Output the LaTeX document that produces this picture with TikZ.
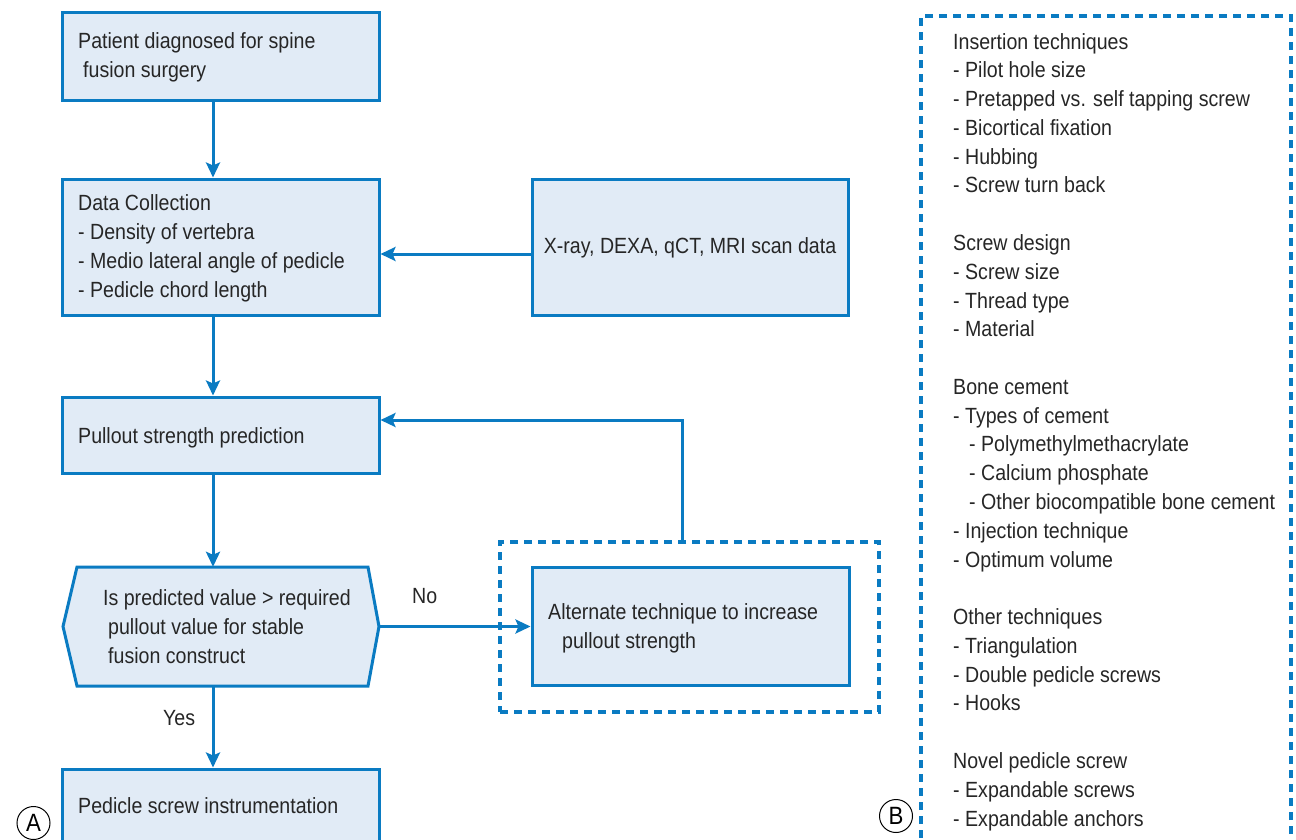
\documentclass[tikz,border=0pt]{standalone}
\usepackage{fontspec}
\setmainfont{Liberation Sans}[FakeStretch=0.89]
\usetikzlibrary{arrows.meta}
\definecolor{lblue}{HTML}{0A7BC2}
\definecolor{lfill}{HTML}{E1EBF6}
\definecolor{ltext}{HTML}{262626}
\tikzset{
  box/.style={draw=lblue,fill=lfill,line width=3pt,inner sep=0pt},
  grp/.style={draw=lblue,line width=3.2pt,dash pattern=on 8pt off 6pt,inner sep=0pt},
  txt/.style={anchor=base west,inner sep=0pt,text=ltext,font=\fontsize{22}{26}\selectfont},
  conn/.style={draw=lblue,line width=3pt},
  arr/.style={conn,-{Stealth[length=15pt,width=14pt,inset=3pt]}},
  tag/.style={circle,draw=black,line width=1pt,inner sep=0pt,minimum size=33pt,text=black,font=\fontsize{25}{25}\selectfont}
}
\begin{document}
\begin{tikzpicture}[x=1pt,y=-1pt]
\clip (0,0) rectangle (1296,839);
\fill[white] (0,0) rectangle (1296,839);
\coordinate (ax) at (213,0);
% boxes
\node[box,minimum width=317pt,minimum height=88pt] (b1) at (220.5,56) {};
\node[box,minimum width=317pt,minimum height=136pt] (b2) at (220.5,247) {};
\node[box,minimum width=316pt,minimum height=136pt] (xr) at (690,247) {};
\node[box,minimum width=317pt,minimum height=76pt] (b3) at (220.5,435) {};
\node[inner sep=0pt,minimum width=316pt,minimum height=119pt] (dec) at (221,626.5) {};
\filldraw[draw=lblue,fill=lfill,line width=3pt] (63,626.5) -- (77,567) -- (368,567) -- (379,626.5) -- (368,686) -- (77,686) -- cycle;
\node[box,minimum width=317pt,minimum height=91pt] (b4) at (220.5,814.5) {};
\node[grp,minimum width=379pt,minimum height=170pt] (altgrp) at (689.5,627) {};
\node[box,minimum width=317pt,minimum height=118pt] (alt) at (690.5,626.5) {};
\node[grp,minimum width=370pt,minimum height=854pt] (rgrp) at (1106,443) {};
% texts
\node[txt] (t1a) at (78,48) {Patient diagnosed for spine};
\node[txt] (t1b) at (83,77) {fusion surgery};
\node[txt] (t2a) at (78,210) {Data Collection};
\node[txt] (t2b) at (78,239) {- Density of vertebra};
\node[txt] (t2c) at (78,268) {- Medio lateral angle of pedicle};
\node[txt] (t2d) at (78,297) {- Pedicle chord length};
\node[txt,anchor=base] (txr) at (690,253) {X-ray, DEXA, qCT, MRI scan data};
\node[txt] (t3) at (78,443) {Pullout strength prediction};
\node[txt] (tda) at (103,605) {Is predicted value > required};
\node[txt] (tdb) at (108,634) {pullout value for stable};
\node[txt] (tdc) at (108,663) {fusion construct};
\node[txt] (t4) at (78,813) {Pedicle screw instrumentation};
\node[txt] (tala) at (548,619) {Alternate technique to increase};
\node[txt] (talb) at (562,648) {pullout strength};
\node[txt] (tno) at (412,603) {No};
\node[txt] (tyes) at (163,725) {Yes};
\foreach \n/\dx/\t in {0/953/Insertion techniques, 1/953/- Pilot hole size,
  2/953/- Pretapped vs. self tapping screw, 3/953/- Bicortical fixation,
  4/953/- Hubbing, 5/953/- Screw turn back,
  7/953/Screw design, 8/953/- Screw size, 9/953/- Thread type, 10/953/- Material,
  12/953/Bone cement, 13/953/- Types of cement, 14/969/- Polymethylmethacrylate,
  15/969/- Calcium phosphate, 16/969/- Other biocompatible bone cement,
  17/953/- Injection technique, 18/953/- Optimum volume,
  20/953/Other techniques, 21/953/- Triangulation, 22/953/- Double pedicle screws,
  23/953/- Hooks,
  25/953/Novel pedicle screw, 26/953/- Expandable screws, 27/953/- Expandable anchors}
  \node[txt] (r\n) at (\dx,49+28.78*\n) {\t};
% tags
\node[tag] (la) at (33.5,823) {A};
\node[tag] (lb) at (896,816) {B};
% connectors
\coordinate (xry) at (0,254);
\coordinate (fb) at (682,420);
\draw[arr] (b1.south -| ax) -- (b2.north -| ax);
\draw[arr] (xr.west |- xry) -- (b2.east |- xry);
\draw[arr] (b2.south -| ax) -- (b3.north -| ax);
\draw[arr] (b3.south -| ax) -- (dec.north -| ax);
\draw[arr] (dec.south -| ax) -- (b4.north -| ax);
\draw[arr] (dec.east) -- (alt.west);
\draw[arr] (altgrp.north -| fb) -- (fb) -- (fb -| b3.east);
\end{tikzpicture}
\end{document}
